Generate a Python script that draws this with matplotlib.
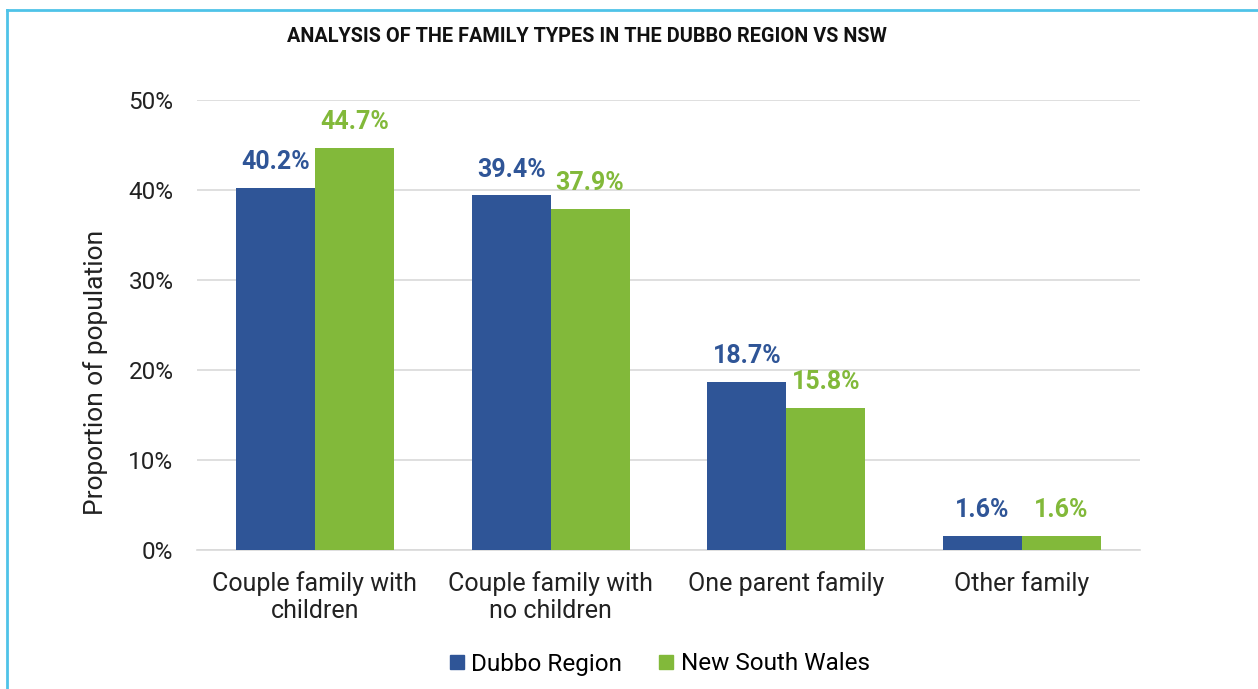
import matplotlib.pyplot as plt
import numpy as np
from matplotlib.lines import Line2D

plt.rcParams['font.family'] = ['Roboto', 'DejaVu Sans']

categories = ['Couple family with\nchildren', 'Couple family with\nno children',
              'One parent family', 'Other family']
dubbo = [40.2, 39.4, 18.7, 1.6]
nsw = [44.7, 37.9, 15.8, 1.6]
series_names = ['Dubbo Region', 'New South Wales']
yticks = [0, 10, 20, 30, 40, 50]

blue = '#2F5597'
green = '#82B93A'

fig = plt.figure(figsize=(12.58, 6.89), dpi=100)
ax = fig.add_axes([197 / 1258, 1 - 550 / 689, (1140 - 197) / 1258, 450 / 689])

x = np.arange(len(categories))
w = 0.335
b1 = ax.bar(x - w / 2, dubbo, w, color=blue, label=series_names[0], zorder=3)
b2 = ax.bar(x + w / 2, nsw, w, color=green, label=series_names[1], zorder=3)

for rect, v in zip(b1, dubbo):
    ax.annotate(f'{v:.1f}%', (rect.get_x() + rect.get_width() / 2, v),
                xytext=(0, 10), textcoords='offset points', ha='center', va='bottom',
                fontsize=18, fontweight='bold', color=blue)
for rect, v in zip(b2, nsw):
    ax.annotate(f'{v:.1f}%', (rect.get_x() + rect.get_width() / 2, v),
                xytext=(0, 10), textcoords='offset points', ha='center', va='bottom',
                fontsize=18, fontweight='bold', color=green)

ax.set_xlim(-0.5, len(categories) - 0.5)
ax.set_ylim(0, 50)
ax.set_yticks(yticks)
ax.set_yticklabels([f'{t}%' for t in yticks], fontsize=17.5, color='#222222')
ax.set_xticks(x)
ax.set_xticklabels(categories, fontsize=18, color='#222222', linespacing=1.15)
ax.tick_params(axis='x', length=0, pad=15)
ax.tick_params(axis='y', length=0, pad=17)
ax.grid(axis='y', color='#D9D9D9', linewidth=1.2, zorder=0)
for s in ['top', 'right', 'left']:
    ax.spines[s].set_visible(False)
ax.spines['bottom'].set_color('#D9D9D9')
ax.spines['bottom'].set_linewidth(1.2)
ax.set_ylabel('Proportion of population', fontsize=19, color='#222222')
ax.yaxis.set_label_coords(-0.094, 0.395)

fig.text(587 / 1258, 1 - 37 / 689, 'ANALYSIS OF THE FAMILY TYPES IN THE DUBBO REGION VS NSW',
         ha='center', va='center', fontsize=14.3, fontweight='bold', color='#111111')

handles = [Line2D([], [], marker='s', linestyle='', markersize=9.5, color=blue),
           Line2D([], [], marker='s', linestyle='', markersize=9.5, color=green)]
fig.legend(handles, series_names, loc='center', bbox_to_anchor=(657 / 1258, 1 - 664 / 689),
           ncol=2, frameon=False, fontsize=17.5, handletextpad=0.1, columnspacing=1.3,
           handlelength=1.0)

# light blue frame along left and top edges
fig.add_artist(Line2D([7 / 1258, 7 / 1258], [0, 1 - 10 / 689], transform=fig.transFigure,
                      color='#4FC3E8', linewidth=2))
fig.add_artist(Line2D([7 / 1258, 1], [1 - 10 / 689, 1 - 10 / 689], transform=fig.transFigure,
                      color='#4FC3E8', linewidth=2))

fig.savefig('out.png', dpi=100)
